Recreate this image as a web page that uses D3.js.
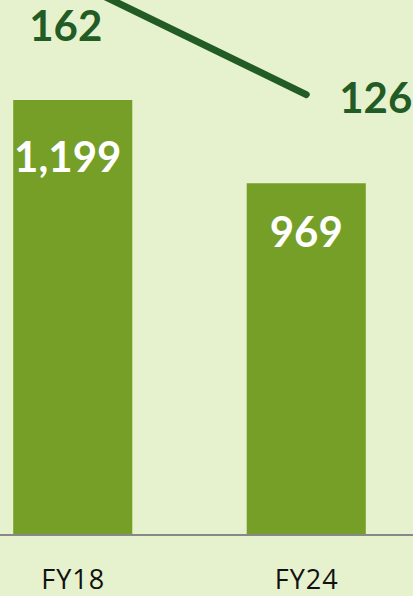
<!DOCTYPE html>
<html>
<head>
<meta charset="utf-8">
<script src="https://cdn.jsdelivr.net/npm/d3@7"></script>
<style>
  html, body { margin: 0; padding: 0; background: #e6f2cd; }
  #chart { width: 413px; height: 596px; overflow: hidden; }
</style>
</head>
<body>
<div id="chart"></div>
<script>
const categories = ["FY18", "FY24"];
const barValues = [1199, 969];
const lineValues = [162, 126];

const width = 413;
const height = 596;
const baseline = 534;

const svg = d3.select('#chart')
    .append('svg')
    .attr('width', width)
    .attr('height', height)
    .style('font-family', 'Lato, "Open Sans", sans-serif');

svg.append('rect')
    .attr('width', width)
    .attr('height', height)
    .attr('fill', '#e6f2cd');

// plot area is wider than the crop, like the original slide
const x = d3.scaleBand()
    .domain(categories)
    .range([-44, 423])
    .paddingInner(0.49)
    .paddingOuter(0.245);

const y = d3.scaleLinear()
    .domain([0, 1199])
    .range([baseline, 100]);

const y2 = d3.scaleLinear()
    .domain([0, 175])
    .range([492, -60]);

const bars = categories.map((c, i) => ({ cat: c, value: barValues[i] }));
const points = categories.map((c, i) => ({ cat: c, value: lineValues[i] }));
const cx = c => x(c) + x.bandwidth() / 2;

svg.selectAll('rect.bar')
    .data(bars)
    .join('rect')
    .attr('class', 'bar')
    .attr('x', d => x(d.cat))
    .attr('y', d => y(d.value))
    .attr('width', x.bandwidth())
    .attr('height', d => y(0) - y(d.value))
    .attr('fill', '#769f28');

svg.append('line')
    .attr('x1', 0)
    .attr('x2', width)
    .attr('y1', baseline + 1)
    .attr('y2', baseline + 1)
    .attr('stroke', '#888')
    .attr('stroke-width', 2);

svg.selectAll('text.bar-label')
    .data(bars)
    .join('text')
    .attr('class', 'bar-label')
    .attr('x', (d, i) => cx(d.cat) + (i === 0 ? -5 : 0))
    .attr('y', (d, i) => y(d.value) + (i === 0 ? 72 : 64))
    .attr('text-anchor', 'middle')
    .attr('font-size', '42px')
    .attr('font-weight', 'bold')
    .attr('fill', '#fff')
    .text(d => d3.format(',')(d.value));

const line = d3.line()
    .x(d => cx(d.cat))
    .y(d => y2(d.value));

svg.append('path')
    .datum(points)
    .attr('d', line)
    .attr('fill', 'none')
    .attr('stroke', '#235b25')
    .attr('stroke-width', 7)
    .attr('stroke-linecap', 'round');

svg.selectAll('text.line-label')
    .data(points)
    .join('text')
    .attr('class', 'line-label')
    .attr('x', (d, i) => cx(d.cat) + (i === 0 ? -7 : 33))
    .attr('y', (d, i) => y2(d.value) + (i === 0 ? 60 : 18))
    .attr('text-anchor', (d, i) => i === 0 ? 'middle' : 'start')
    .attr('font-size', '42px')
    .attr('font-weight', 'bold')
    .attr('fill', '#235b25')
    .text(d => d.value);

svg.selectAll('text.tick')
    .data(categories)
    .join('text')
    .attr('class', 'tick')
    .attr('x', d => cx(d) + 0.5)
    .attr('y', 589)
    .attr('text-anchor', 'middle')
    .attr('font-family', '"Open Sans", sans-serif')
    .attr('font-size', '27px')
    .attr('letter-spacing', '1px')
    .attr('fill', '#111')
    .text(d => d);
</script>
</body>
</html>
